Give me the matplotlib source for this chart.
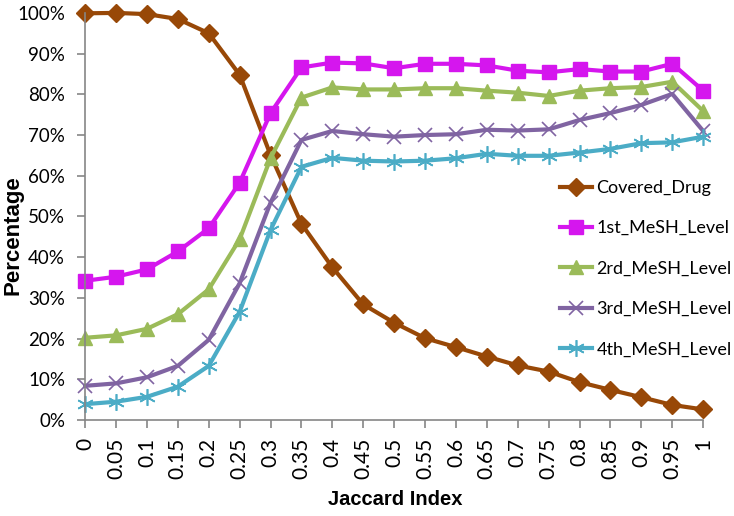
import matplotlib.pyplot as plt

jaccard = ["0", "0.05", "0.1", "0.15", "0.2", "0.25", "0.3", "0.35", "0.4", "0.45", "0.5",
           "0.55", "0.6", "0.65", "0.7", "0.75", "0.8", "0.85", "0.9", "0.95", "1"]

covered_drug = [99.9, 100, 99.7, 98.5, 95.0, 84.8, 65.1, 48.2, 37.5, 28.4, 23.9,
                20.1, 17.9, 15.6, 13.4, 11.9, 9.3, 7.4, 5.6, 3.7, 2.6]
mesh1 = [34.2, 35.2, 37.0, 41.4, 47.1, 58.3, 75.4, 86.6, 87.8, 87.6, 86.4,
         87.5, 87.5, 87.1, 85.8, 85.4, 86.2, 85.6, 85.6, 87.5, 80.9]
mesh2 = [20.2, 20.8, 22.4, 26.0, 32.1, 44.4, 64.3, 79.2, 81.7, 81.2, 81.2,
         81.5, 81.5, 80.9, 80.4, 79.6, 80.9, 81.5, 81.8, 83.1, 75.9]
mesh3 = [8.4, 9.0, 10.5, 13.3, 19.7, 33.6, 53.4, 68.8, 71.0, 70.2, 69.6,
         70.0, 70.2, 71.3, 71.1, 71.4, 73.7, 75.4, 77.4, 80.1, 71.0]
mesh4 = [3.9, 4.5, 5.7, 8.2, 13.3, 26.6, 46.7, 62.2, 64.4, 63.7, 63.5,
         63.7, 64.3, 65.4, 64.9, 64.9, 65.7, 66.6, 68.0, 68.2, 69.6]

yticks = [0, 10, 20, 30, 40, 50, 60, 70, 80, 90, 100]

font = ['Lato', 'DejaVu Sans']
bold_font = ['Liberation Sans', 'DejaVu Sans']

fig = plt.figure(figsize=(7.34, 5.16), dpi=100)
ax = fig.add_axes([0.116, 0.186, 0.842, 0.789])

x = list(range(len(jaccard)))
series = [
    (covered_drug, "Covered_Drug", '#984807', 'D', 9),
    (mesh1, "1st_MeSH_Level", '#D516EE', 's', 10),
    (mesh2, "2rd_MeSH_Level", '#9BBB59', '^', 10),
    (mesh3, "3rd_MeSH_Level", '#8064A2', 'x', 10),
    (mesh4, "4th_MeSH_Level", '#4BACC6', (6, 2, 0), 12),
]
for vals, name, col, mk, ms in series:
    ax.plot(x, vals, color=col, lw=3, marker=mk, markersize=ms,
            markeredgewidth=1.2 if mk in ('x', (6, 2, 0)) else 1.0,
            label=name, clip_on=False)

ax.set_xlim(0, len(jaccard) - 1)
ax.set_ylim(0, 100)
ax.set_xticks(x)
ax.set_xticklabels(jaccard, rotation=90, fontsize=15, family=font)
ax.set_yticks(yticks)
ax.set_yticklabels([f"{v}%" for v in yticks], fontsize=13.5, family=font)

for s in ['top', 'right']:
    ax.spines[s].set_visible(False)
for s in ['left', 'bottom']:
    ax.spines[s].set_color('#868686')
    ax.spines[s].set_linewidth(1.2)
ax.tick_params(axis='both', color='#868686', length=5.5, width=1.2, pad=7)
ax.tick_params(axis='y', pad=9)

ax.set_xlabel("Jaccard Index", fontsize=14.5, fontweight='bold', family=bold_font)
ax.set_ylabel("Percentage", fontsize=16, fontweight='bold', family=bold_font)
ax.xaxis.set_label_coords(0.502, -0.172)
ax.yaxis.set_label_coords(-0.099, 0.455)

leg = ax.legend(loc='upper left', bbox_to_anchor=(0.769, 0.59), frameon=False,
                prop={'family': font, 'size': 13}, handlelength=1.75,
                handletextpad=0.25, labelspacing=1.35, borderpad=0,
                borderaxespad=0)

fig.savefig('out.png', dpi=100)
